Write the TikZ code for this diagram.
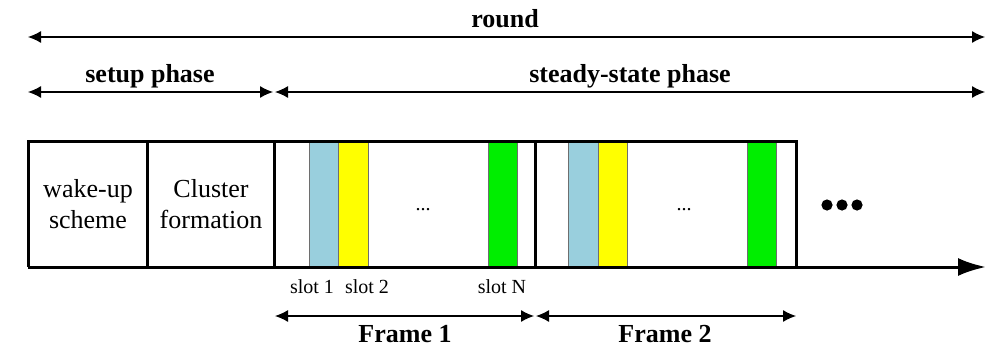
\documentclass[tikz,border=0pt]{standalone}
\usepackage{fontspec}
\setmainfont{Liberation Serif}
\usetikzlibrary{arrows.meta}
\definecolor{slotblue}{RGB}{153,207,221}
\definecolor{slotyellow}{RGB}{255,255,0}
\definecolor{slotgreen}{RGB}{0,238,0}
\definecolor{slotedge}{RGB}{110,110,110}
\begin{document}
\begin{tikzpicture}[x=0.5pt,y=-0.5pt,
  dim/.style={{Latex[length=6.5pt,width=6pt]}-{Latex[length=6.5pt,width=6pt]}, line width=0.6pt},
  box/.style={line width=1.5pt},
  slotbox/.style={draw=slotedge, line width=0.5pt},
  hdr/.style={font=\fontsize{13}{15.5}\selectfont\bfseries, anchor=base, inner sep=0pt},
  lbl/.style={font=\fontsize{13}{15.5}\selectfont, align=center, inner sep=0pt},
  slotlbl/.style={font=\fontsize{10}{12}\selectfont, anchor=base, inner sep=0pt}]
\useasboundingbox (0,0) rectangle (1000,354);
% headers
\node[hdr] (round) at (505,27) {round};
\node[hdr] (setup) at (150,82) {setup phase};
\node[hdr] (steady) at (630,82) {steady-state phase};
\coordinate (r0) at (28,37); \coordinate (r1) at (985,37);
\draw[dim] (r0) -- (r1);
\coordinate (s0) at (28,92); \coordinate (s1) at (273,92);
\coordinate (t0) at (275,92); \coordinate (t1) at (985,92);
\draw[dim] (s0) -- (s1);
\draw[dim] (t0) -- (t1);
% slots frame 1
\filldraw[slotbox, fill=slotblue] (309,141) rectangle (338,267);
\filldraw[slotbox, fill=slotyellow] (338,141) rectangle (368,267);
\filldraw[slotbox, fill=slotgreen] (488,141) rectangle (517,267);
% slots frame 2
\filldraw[slotbox, fill=slotblue] (568,141) rectangle (598,267);
\filldraw[slotbox, fill=slotyellow] (598,141) rectangle (627,267);
\filldraw[slotbox, fill=slotgreen] (747,141) rectangle (776,267);
% box outline
\draw[box] (796,267) -- (796,141) -- (28,141) -- (28,267);
\draw[box] (147,141) -- (147,267);
\draw[box] (274,141) -- (274,267);
\draw[box] (535,141) -- (535,267);
\coordinate (a0) at (28,267); \coordinate (a1) at (986,267);
\draw[box, -{Latex[length=14pt,width=9pt]}] (a0) -- (a1);
% box texts
\node[lbl] (wake) at (88,204) {wake-up\\scheme};
\node[lbl] (cluster) at (211,204) {Cluster\\formation};
\node[slotlbl] (d1) at (423,210) {...};
\node[slotlbl] (d2) at (684,210) {...};
\fill (827,205) circle (5.6);
\fill (842,205) circle (5.6);
\fill (857,205) circle (5.6);
% slot labels
\node[slotlbl] (sl1) at (312,293) {slot 1};
\node[slotlbl] (sl2) at (367,293) {slot 2};
\node[slotlbl] (slN) at (502,293) {slot N};
% frames
\coordinate (f10) at (275,316); \coordinate (f11) at (534,316);
\coordinate (f20) at (536,316); \coordinate (f21) at (796,316);
\draw[dim] (f10) -- (f11);
\draw[dim] (f20) -- (f21);
\node[hdr] (fr1) at (405,342) {Frame 1};
\node[hdr] (fr2) at (665,342) {Frame 2};
\end{tikzpicture}
\end{document}
